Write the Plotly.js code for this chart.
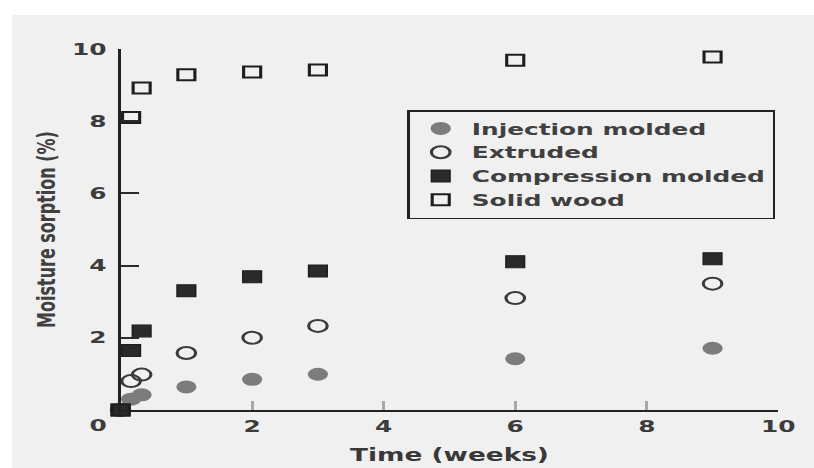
<!DOCTYPE html>
<html>
<head>
<meta charset="utf-8">
<script src="https://cdn.plot.ly/plotly-3.0.1.min.js"></script>
<style>
  html, body { margin: 0; padding: 0; background: #ffffff; overflow: hidden; width: 814px; height: 468px; }
  #panel { position: absolute; left: 12px; top: 15px; width: 802px; height: 453px; background: #f0f0f0; overflow: hidden; }
  /* the figure is laid out narrow and widened horizontally, giving the wide type and oval markers */
  #chart { position: absolute; left: 0; top: 0; width: 517px; height: 453px; transform: scaleX(1.5513); transform-origin: 0 0; }
</style>
</head>
<body>
<div id="panel"><div id="chart"></div></div>
<script>
// Moisture sorption (%) against immersion time (weeks)
const timeWeeks         = [0, 0.16, 0.32, 1, 2, 3, 6, 9];
const injectionMolded   = [0, 0.30, 0.42, 0.64, 0.85, 0.99, 1.42, 1.71];
const extruded          = [0, 0.80, 0.98, 1.58, 2.00, 2.33, 3.10, 3.50];
const compressionMolded = [0, 1.65, 2.19, 3.30, 3.69, 3.85, 4.11, 4.19];
const solidWood         = [0, 8.10, 8.92, 9.29, 9.36, 9.42, 9.69, 9.78];
const seriesNames = ['Injection molded', 'Extruded', 'Compression molded', 'Solid wood'];
const xTickVals = [2, 4, 6, 8, 10];
const yTickVals = [2, 4, 6, 8, 10];
const originLabel = '0';

const FONT = 'DejaVu Sans, Verdana, sans-serif';
const ink = '#2a2a2a';

function series(name, y, marker) {
  return { type: 'scatter', mode: 'markers', name: name, x: timeWeeks, y: y,
           marker: marker, cliponaxis: false, hoverinfo: 'skip' };
}

const traces = [
  series(seriesNames[0], injectionMolded,   { symbol: 'circle', size: 13, color: '#7c7c7c', line: { width: 0 } }),
  series(seriesNames[1], extruded,          { symbol: 'circle-open', size: 12, color: '#3a3a3a', line: { width: 2, color: '#3a3a3a' } }),
  series(seriesNames[2], compressionMolded, { symbol: 'square', size: 12, color: ink, line: { width: 1, color: '#1e1e1e' } }),
  series(seriesNames[3], solidWood,         { symbol: 'square-open', size: 11, color: '#1e1e1e', line: { width: 2, color: '#1e1e1e' } })
];

const tickFont = { family: FONT, size: 16, color: '#3c3c3c', weight: 'bold' };

const layout = {
  width: 517, height: 453,
  margin: { l: 70, r: 23, t: 34, b: 58, pad: 0 },
  paper_bgcolor: 'rgba(0,0,0,0)',
  plot_bgcolor: 'rgba(0,0,0,0)',
  showlegend: true,
  xaxis: {
    range: [0, 10], tickvals: xTickVals, ticktext: xTickVals.map(String),
    showgrid: false, zeroline: false,
    showline: true, linecolor: '#222222', linewidth: 2,
    ticks: 'inside', ticklen: 9, tickwidth: 2, tickcolor: '#a8a8a8',
    tickfont: tickFont, ticklabelstandoff: 1,
    title: { text: 'Time (weeks)', font: { family: FONT, size: 17, color: '#383838', weight: 'bold' }, standoff: 14 }
  },
  yaxis: {
    range: [0, 10], tickvals: yTickVals, ticktext: yTickVals.map(String),
    showgrid: false, zeroline: false,
    showline: true, linecolor: '#222222', linewidth: 1.8,
    ticks: 'inside', ticklen: 12, tickwidth: 2, tickcolor: '#2a2a2a',
    tickfont: tickFont, ticklabelstandoff: 4,
    title: { text: 'Moisture sorption (%)', font: { family: FONT, size: 16, color: '#404040', weight: 'bold' }, standoff: 6 }
  },
  legend: {
    x: 0.436, y: 0.831, xanchor: 'left', yanchor: 'top',
    bgcolor: 'rgba(0,0,0,0)', bordercolor: '#222222', borderwidth: 1.5,
    font: { family: FONT, size: 16, color: '#404040', weight: 'bold' },
    tracegroupgap: 0
  },
  annotations: [{
    x: 0, y: 0, xref: 'x', yref: 'y', text: originLabel, showarrow: false,
    xanchor: 'center', yanchor: 'middle', xshift: -15, yshift: -15,
    font: tickFont
  }]
};

Plotly.newPlot('chart', traces, layout, { staticPlot: true, displayModeBar: false });
</script>
</body>
</html>
